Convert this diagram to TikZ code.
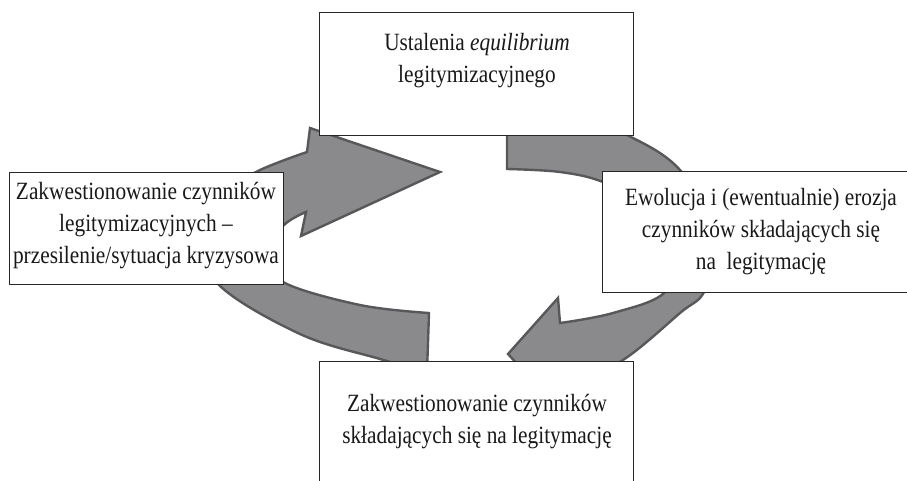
\documentclass[tikz,border=0pt]{standalone}
\usepackage{fontspec}
\setmainfont{Liberation Serif}[FakeStretch=0.86]
\definecolor{arrowfill}{RGB}{138,138,141}
\definecolor{arrowline}{RGB}{88,88,90}
\begin{document}
\begin{tikzpicture}[x=1pt,y=-1pt,
  cyc/.style={fill=arrowfill, draw=arrowline, line width=2.4pt, line join=miter},
  box/.style={draw=black!85, fill=white, line width=1.2pt, inner sep=0pt},
  txt/.style={align=center, inner sep=0pt, font=\fontsize{24.8pt}{32pt}\selectfont, text=black!90}]
\useasboundingbox (0,0) rectangle (907,480);
% left cycle arrow (from bottom, round the left, pointing right at the top)
\draw[cyc] (429,313) -- (427,372)
  -- plot[smooth, tension=0.6] coordinates {(427,372) (380,359) (300,334) (218,284) (204,235) (222,195) (258,171) (307,152)}
  -- (310,128) -- (440,172) -- (301,236) -- (306,212)
  -- plot[smooth, tension=0.6] coordinates {(306,212) (283,226) (270,254) (283,282) (360,305) (429,313)}
  -- cycle;
% right cycle arrow (from top, round the right, pointing down-left at the bottom)
\draw[cyc] (507,108) -- (507,169)
  -- plot[smooth, tension=0.6] coordinates {(507,169) (560,172) (603,182) (650,207) (672,250) (665,292) (613,313) (560,323)}
  -- (558,298) -- (508,354) -- (555,405) -- (575,380)
  -- plot[smooth, tension=0.6] coordinates {(575,380) (623,360) (680,313) (705,290) (716,235) (680,170) (627,135) (570,114) (507,108)}
  -- cycle;
% boxes
\node[box, anchor=north west, minimum width=314pt, minimum height=123pt] (topbox) at (319,12) {};
\node[box, anchor=north west, minimum width=274pt, minimum height=112pt] (leftbox) at (9,172) {};
\node[box, anchor=north west, minimum width=330pt, minimum height=121pt] (rightbox) at (602,171) {};
\node[box, anchor=north west, minimum width=314pt, minimum height=140pt] (bottombox) at (319,361) {};
% texts
\node[txt, anchor=north] (toptext) at (477,33.5) {Ustalenia \textit{equilibrium}\\legitymizacyjnego};
\node[txt, anchor=north] (lefttext) at (146,182.5) {Zakwestionowanie czynników\\legitymizacyjnych –\\przesilenie/sytuacja kryzysowa};
\node[txt, anchor=north] (righttext) at (761,188.5) {Ewolucja i (ewentualnie) erozja\\czynników składających się\\na\ \ legitymację};
\node[txt, anchor=north] (bottomtext) at (477,394.5) {Zakwestionowanie czynników\\składających się na legitymację};
\end{tikzpicture}
\end{document}
